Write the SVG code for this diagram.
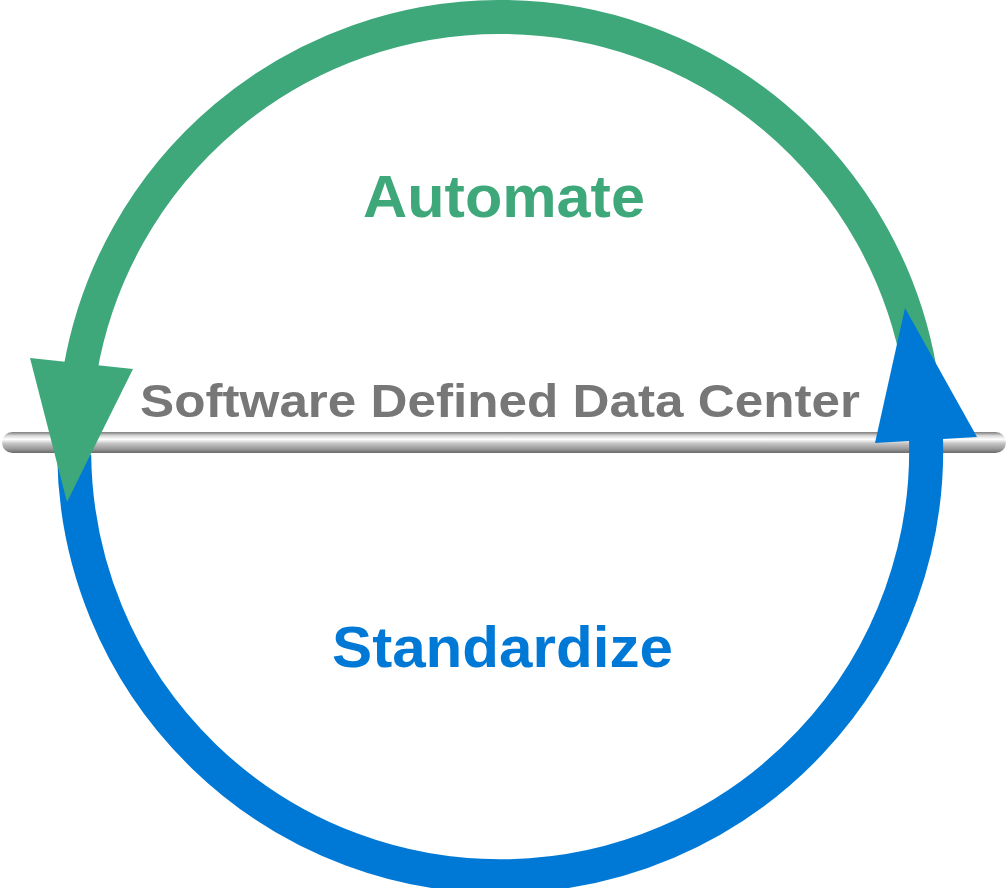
<svg xmlns="http://www.w3.org/2000/svg" width="1008" height="888" viewBox="0 0 1008 888">
  <style>
    .lbl { font-family: "Liberation Sans", Arial, Helvetica, sans-serif; font-weight: bold; }
    .ring { fill: none; stroke-width: 34; }
  </style>
  <defs>
    <linearGradient id="rod" x1="0" y1="0" x2="0" y2="1">
      <stop offset="0" stop-color="#7d7d7d"/>
      <stop offset="0.18" stop-color="#d9d9d9"/>
      <stop offset="0.35" stop-color="#ffffff"/>
      <stop offset="0.55" stop-color="#c4c4c4"/>
      <stop offset="0.8" stop-color="#9a9a9a"/>
      <stop offset="1" stop-color="#6a6a6a"/>
    </linearGradient>
  </defs>
  <rect width="1008" height="888" fill="#ffffff"/>
  <g id="rod-bar">
    <rect x="2" y="432" width="1004" height="21" rx="10.5" ry="10.5" fill="url(#rod)"/>
  </g>
  <g id="connectors">
    <path id="standardize-arc" class="ring" stroke="#0079d6" d="M 74.2 455 A 426 426 0 1 0 925.9 435"/>
    <path id="automate-arc" class="ring" stroke="#3ea87b" d="M 919.7 370 A 426 426 0 0 0 80.3 370"/>
    <polygon id="automate-head" fill="#3ea87b" points="30,358 133,369 67,502"/>
    <polygon id="standardize-head" fill="#0079d6" points="905,308 977,437 875,443"/>
  </g>
  <g id="automate">
    <text class="lbl" x="363" y="217" font-size="59" fill="#3ea87b" textLength="282" lengthAdjust="spacingAndGlyphs">Automate</text>
  </g>
  <g id="sddc">
    <text class="lbl" x="140" y="417" font-size="46" fill="#777777" textLength="720" lengthAdjust="spacingAndGlyphs">Software Defined Data Center</text>
  </g>
  <g id="standardize">
    <text class="lbl" x="332" y="667" font-size="57" fill="#0079d6" textLength="341" lengthAdjust="spacingAndGlyphs">Standardize</text>
  </g>
</svg>
